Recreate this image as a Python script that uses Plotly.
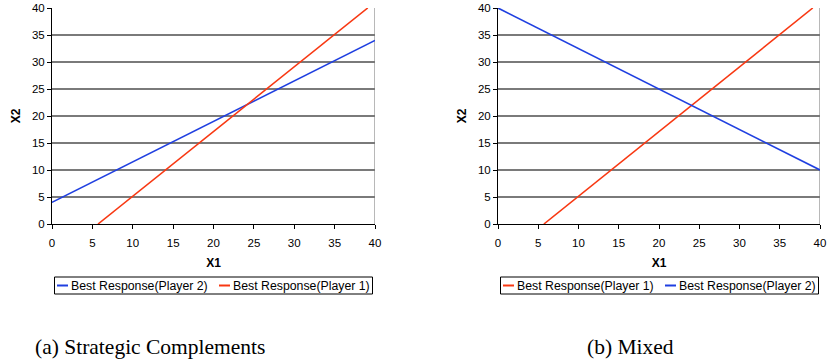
import plotly.graph_objects as go

# Data
x1_ticks = [0, 5, 10, 15, 20, 25, 30, 35, 40]
x2_ticks = [0, 5, 10, 15, 20, 25, 30, 35, 40]

# (a) Strategic Complements
a_p2_x = [0, 40]
a_p2_y = [4, 34]
a_p1_x = [5.7, 39.1]
a_p1_y = [0, 40]

# (b) Mixed
b_p1_x = [5.7, 39.1]
b_p1_y = [0, 40]
b_p2_x = [0, 40]
b_p2_y = [40, 10]

name_p1 = "Best Response(Player 1)"
name_p2 = "Best Response(Player 2)"
captions = ["(a) Strategic Complements", "(b) Mixed"]

BLUE = "#1f3fe0"
RED = "#f83812"
W, H = 827, 364

fig = go.Figure()
fig.add_trace(go.Scatter(x=a_p2_x, y=a_p2_y, mode="lines", name=name_p2,
                         line=dict(color=BLUE, width=1.6), xaxis="x", yaxis="y"))
fig.add_trace(go.Scatter(x=a_p1_x, y=a_p1_y, mode="lines", name=name_p1,
                         line=dict(color=RED, width=1.6), xaxis="x", yaxis="y"))
fig.add_trace(go.Scatter(x=b_p1_x, y=b_p1_y, mode="lines", name=name_p1,
                         line=dict(color=RED, width=1.6), xaxis="x2", yaxis="y2"))
fig.add_trace(go.Scatter(x=b_p2_x, y=b_p2_y, mode="lines", name=name_p2,
                         line=dict(color=BLUE, width=1.6), xaxis="x2", yaxis="y2"))

tickfont = dict(family="Liberation Sans, Arial", size=11.5, color="black")
titlefont = dict(family="Liberation Sans, Arial", size=12, color="black", weight="bold")

def xaxis(domain, anchor):
    return dict(domain=domain, anchor=anchor, range=[0, 40], tickvals=x1_ticks,
                showgrid=False, zeroline=False, showline=True, linecolor="black", linewidth=1,
                ticks="outside", ticklen=4, tickcolor="black", tickfont=tickfont,
                ticklabelstandoff=4,
                title=dict(text="X1", font=titlefont, standoff=10), automargin=False,
                fixedrange=True)

def yaxis(domain, anchor):
    return dict(domain=domain, anchor=anchor, range=[0, 40], tickvals=x2_ticks,
                showgrid=True, gridcolor="#7a7a7a", gridwidth=1.5, zeroline=False,
                showline=True, linecolor="black", linewidth=1,
                ticks="outside", ticklen=4, tickcolor="black", tickfont=tickfont,
                title=dict(text="X2", font=titlefont, standoff=8), automargin=False,
                fixedrange=True)

ydom = [1 - 224 / H, 1 - 8 / H]
fig.update_layout(
    width=W, height=H, margin=dict(l=0, r=0, t=0, b=0, autoexpand=False),
    paper_bgcolor="white", plot_bgcolor="white",
    xaxis=xaxis([52 / W, 375 / W], "y"),
    yaxis=yaxis(ydom, "x"),
    xaxis2=xaxis([498 / W, 820 / W], "y2"),
    yaxis2=yaxis(ydom, "x2"),
    showlegend=False,
)

# right border of plot areas (gray)
for xr, yr in (("x", "y"), ("x2", "y2")):
    fig.add_shape(type="line", xref=xr, yref=yr, x0=40, x1=40, y0=0, y1=40,
                  line=dict(color="#a0a0a0", width=1.5), layer="below")

# legend boxes drawn below each chart
legfont = dict(family="Liberation Sans, Arial", size=12.3, color="black")
def px(xp):
    return xp / W
def py(yp):
    return 1 - yp / H

legends = [
    (0, [(name_p2, BLUE), (name_p1, RED)]),
    (446, [(name_p1, RED), (name_p2, BLUE)]),
]
for off, items in legends:
    fig.add_shape(type="rect", xref="paper", yref="paper",
                  x0=px(54.5 + off), x1=px(372.5 + off), y0=py(294), y1=py(277),
                  line=dict(color="black", width=1), fillcolor="white")
    starts = [57, 219]
    for (nm, col), s in zip(items, starts):
        fig.add_shape(type="line", xref="paper", yref="paper",
                      x0=px(s + off), x1=px(s + 11 + off), y0=py(285.5), y1=py(285.5),
                      line=dict(color=col, width=2))
        fig.add_annotation(text=nm, x=px(s + 13 + off), y=py(285.5), xref="paper", yref="paper",
                           showarrow=False, font=legfont, xanchor="left", yanchor="middle",
                           borderpad=0)

capfont = dict(family="Liberation Serif, DejaVu Serif", size=21.5, color="black")
fig.add_annotation(text=captions[0], x=150 / W, y=py(347), xref="paper", yref="paper",
                   showarrow=False, font=capfont, xanchor="center", yanchor="middle")
fig.add_annotation(text=captions[1], x=630 / W, y=py(347), xref="paper", yref="paper",
                   showarrow=False, font=capfont, xanchor="center", yanchor="middle")

fig.write_html("out.html", config={"displayModeBar": False},
               post_script="document.body.style.margin='0';")
